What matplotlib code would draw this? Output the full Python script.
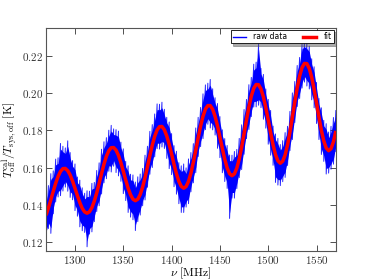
import numpy as np
import matplotlib
matplotlib.use('Agg')
import matplotlib.pyplot as plt
from matplotlib.lines import Line2D

# Frequency grid (MHz), 2.5 MHz step, and fitted curve
freq = np.arange(1270, 1570.1, 2.5)
fit = [0.1344, 0.1383, 0.1427, 0.1472, 0.1515, 0.1552, 0.1579, 0.1594, 0.1595, 0.1583, 0.1560,
       0.1527, 0.1489, 0.1449, 0.1412, 0.1381, 0.1362, 0.1355, 0.1363, 0.1385, 0.1420, 0.1464,
       0.1515, 0.1568, 0.1618, 0.1660, 0.1690, 0.1706, 0.1707, 0.1693, 0.1665, 0.1626, 0.1580,
       0.1533, 0.1489, 0.1454, 0.1430, 0.1422, 0.1430, 0.1455, 0.1495, 0.1546, 0.1604, 0.1664,
       0.1720, 0.1767, 0.1801, 0.1819, 0.1820, 0.1802, 0.1769, 0.1724, 0.1672, 0.1617, 0.1567,
       0.1526, 0.1499, 0.1489, 0.1498, 0.1526, 0.1570, 0.1628, 0.1692, 0.1759, 0.1822, 0.1875,
       0.1913, 0.1932, 0.1932, 0.1912, 0.1874, 0.1823, 0.1763, 0.1702, 0.1645, 0.1598, 0.1567,
       0.1556, 0.1566, 0.1597, 0.1646, 0.1709, 0.1781, 0.1855, 0.1924, 0.1983, 0.2024, 0.2045,
       0.2044, 0.2021, 0.1979, 0.1921, 0.1855, 0.1786, 0.1722, 0.1670, 0.1636, 0.1623, 0.1634,
       0.1667, 0.1721, 0.1791, 0.1870, 0.1951, 0.2027, 0.2090, 0.2136, 0.2158, 0.2157, 0.2131,
       0.2083, 0.2020, 0.1946, 0.1870, 0.1800, 0.1743, 0.1705, 0.1690, 0.1701, 0.1738, 0.1796]

# spread of the raw data above / below the fit at each grid point
raw_hi = [0.010, 0.012, 0.014, 0.011, 0.013, 0.010, 0.015, 0.012, 0.011, 0.016, 0.012,
          0.011, 0.013, 0.010, 0.012, 0.011, 0.010, 0.012, 0.011, 0.013, 0.010, 0.012,
          0.011, 0.013, 0.012, 0.010, 0.011, 0.012, 0.010, 0.011, 0.013, 0.011, 0.012,
          0.010, 0.012, 0.011, 0.013, 0.010, 0.012, 0.011, 0.010, 0.012, 0.011, 0.013,
          0.011, 0.012, 0.014, 0.012, 0.013, 0.011, 0.010, 0.012, 0.011, 0.010, 0.012,
          0.010, 0.011, 0.013, 0.010, 0.012, 0.011, 0.010, 0.012, 0.011, 0.010, 0.012,
          0.013, 0.012, 0.014, 0.011, 0.010, 0.012, 0.011, 0.010, 0.011, 0.012, 0.010,
          0.011, 0.012, 0.010, 0.011, 0.012, 0.013, 0.011, 0.012, 0.010, 0.013, 0.012,
          0.022, 0.011, 0.012, 0.010, 0.011, 0.012, 0.010, 0.011, 0.012, 0.010, 0.011,
          0.012, 0.010, 0.011, 0.013, 0.011, 0.012, 0.010, 0.013, 0.012, 0.011, 0.012,
          0.010, 0.012, 0.011, 0.010, 0.012, 0.011, 0.013, 0.010, 0.012, 0.013, 0.011]
raw_lo = [0.012, 0.011, 0.018, 0.012, 0.010, 0.011, 0.013, 0.012, 0.010, 0.011, 0.012,
          0.010, 0.012, 0.011, 0.013, 0.012, 0.011, 0.018, 0.012, 0.013, 0.011, 0.010,
          0.012, 0.011, 0.010, 0.012, 0.011, 0.013, 0.010, 0.012, 0.011, 0.010, 0.012,
          0.011, 0.013, 0.012, 0.011, 0.016, 0.012, 0.011, 0.010, 0.012, 0.011, 0.010,
          0.012, 0.011, 0.010, 0.012, 0.011, 0.010, 0.012, 0.013, 0.011, 0.012, 0.011,
          0.012, 0.014, 0.013, 0.011, 0.012, 0.010, 0.011, 0.012, 0.010, 0.011, 0.012,
          0.011, 0.010, 0.012, 0.011, 0.010, 0.012, 0.011, 0.013, 0.012, 0.011, 0.024,
          0.012, 0.013, 0.011, 0.010, 0.012, 0.011, 0.010, 0.012, 0.011, 0.010, 0.012,
          0.011, 0.010, 0.012, 0.011, 0.013, 0.012, 0.011, 0.015, 0.013, 0.012, 0.011,
          0.012, 0.011, 0.010, 0.012, 0.011, 0.010, 0.012, 0.011, 0.010, 0.012, 0.011,
          0.012, 0.010, 0.011, 0.012, 0.013, 0.011, 0.014, 0.012, 0.011, 0.012, 0.011]

xticks = [1300, 1350, 1400, 1450, 1500, 1550]
yticks = [0.12, 0.14, 0.16, 0.18, 0.20, 0.22]

plt.rcParams['mathtext.fontset'] = 'cm'
plt.rcParams['font.size'] = 8

fit = np.array(fit)
upper = fit + np.array(raw_hi)
lower = fit - np.array(raw_lo)

# raw data trace: jump between top and bottom of the spread
raw_x = np.repeat(freq, 2)
raw_y = np.column_stack([upper, lower]).ravel()

fig = plt.figure(figsize=(3.74, 2.8), dpi=100)
ax = fig.add_axes([0.123, 0.104, 0.775, 0.796])

ax.fill_between(freq, lower + 0.003, upper - 0.003, color='#0000ff', lw=0)
ax.plot(raw_x, raw_y, color='#0000ff', lw=0.7, alpha=0.85)
ax.plot(freq, fit, color='red', lw=2.5, solid_capstyle='butt')

ax.set_xlim(1270, 1570)
ax.set_ylim(0.1153, 0.2348)
ax.set_xticks(xticks)
ax.set_xticklabels(['$%d$' % t for t in xticks])
ax.set_yticks(yticks)
ax.set_yticklabels(['$%.2f$' % t for t in yticks])
ax.tick_params(direction='in', top=True, right=True, length=4, width=0.6,
               labelsize=8, pad=2, colors='#333333')
for s in ax.spines.values():
    s.set_color('#555555')
    s.set_linewidth(0.8)

ax.set_xlabel(r'$\nu\ [\rm MHz]$', fontsize=8.5, labelpad=0)
ax.set_ylabel(r'$T^{\rm cal}_{\rm off}/T_{\rm sys,off}\ [\rm K]$', fontsize=8.5, labelpad=1)

handles = [Line2D([], [], color='#0000ff', lw=1),
           Line2D([], [], color='red', lw=2.5)]
leg = ax.legend(handles, ['raw data', 'fit'], loc='upper right', ncol=2,
                fontsize=5.5, fancybox=False, shadow={'ox': 1.5, 'oy': -1.5, 'color': '#555555'},
                framealpha=1, borderaxespad=0.25, handlelength=1.7, handletextpad=1.0,
                columnspacing=2.0, borderpad=0.3)
leg.get_frame().set_edgecolor('black')
leg.get_frame().set_linewidth(0.6)

fig.savefig('out.png', dpi=100)
